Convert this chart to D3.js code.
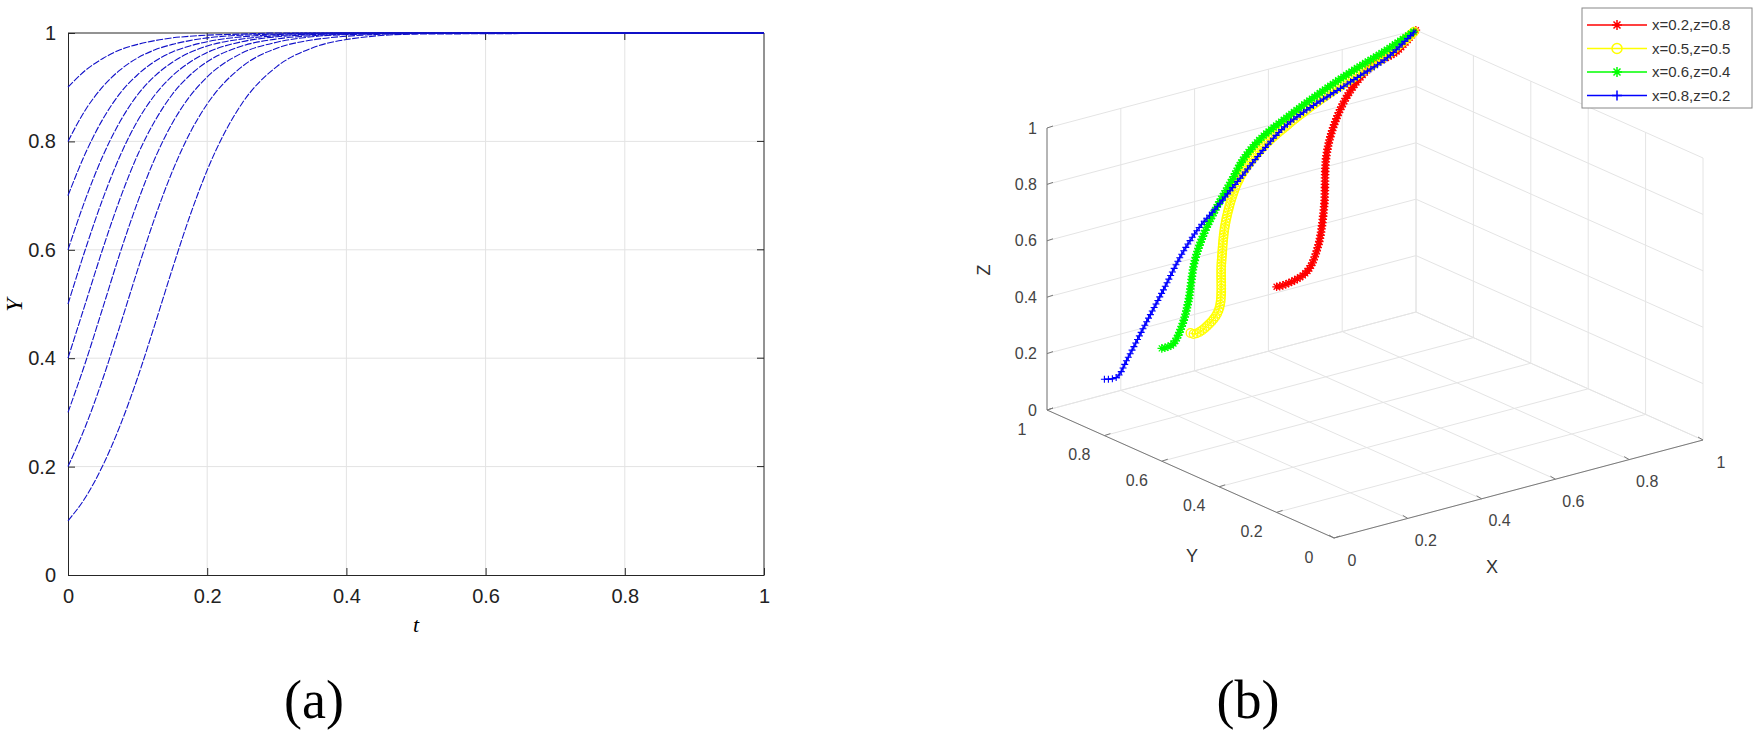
<!DOCTYPE html>
<html><head><meta charset="utf-8">
<script src="https://cdn.jsdelivr.net/npm/d3@7"></script>
<style>body{margin:0;background:#fff}svg{display:block}</style>
</head><body><svg id="c" width="1762" height="733"></svg>
<script>
// ---- panel (a) data ----
const tSamples = [0,0.025,0.05,0.075,0.1,0.125,0.15,0.175,0.2,0.25,0.3,0.35,0.4,0.5,1];
const curveY01 = [0.1,0.143,0.202,0.276,0.364,0.463,0.565,0.662,0.747,0.870,0.938,0.972,0.988,0.998,1];
const curveY02 = [0.2,0.274,0.362,0.461,0.563,0.660,0.745,0.815,0.869,0.938,0.972,0.987,0.994,0.999,1];
const curveY03 = [0.3,0.392,0.493,0.595,0.688,0.769,0.834,0.883,0.919,0.963,0.983,0.993,0.997,0.999,1];
const curveY04 = [0.4,0.501,0.602,0.695,0.775,0.838,0.887,0.922,0.947,0.976,0.989,0.995,0.998,1,1];
const curveY05 = [0.5,0.601,0.694,0.774,0.838,0.886,0.921,0.946,0.964,0.984,0.993,0.997,0.999,1,1];
const curveY06 = [0.6,0.693,0.773,0.837,0.886,0.921,0.946,0.964,0.976,0.989,0.995,0.998,1,1,1];
const curveY07 = [0.7,0.778,0.841,0.889,0.923,0.948,0.965,0.976,0.984,0.993,0.997,0.999,1,1,1];
const curveY08 = [0.8,0.858,0.901,0.932,0.954,0.969,0.979,0.986,0.991,0.996,0.998,1,1,1,1];
const curveY09 = [0.9,0.931,0.953,0.969,0.979,0.986,0.991,0.994,0.996,0.998,1,1,1,1,1];
const curvesA = [curveY01,curveY02,curveY03,curveY04,curveY05,curveY06,curveY07,curveY08,curveY09];
const ticksA = [0,0.2,0.4,0.6,0.8,1];

// ---- panel (b) data ----
const seriesNames = ["x=0.2,z=0.8","x=0.5,z=0.5","x=0.6,z=0.4","x=0.8,z=0.2"];
const seriesColors = ["#ff0000","#ffff00","#00ff00","#0000ff"];
const redX = [0,0.024,0.086,0.174,0.32,0.479,0.592,0.704,0.815,0.893,1];
const redY = [0.2,0.2,0.206,0.281,0.446,0.642,0.756,0.846,0.912,0.932,1];
const redZ = [0.8,0.8,0.82,0.84,0.86,0.9,0.93,0.96,0.98,0.99,1];
const yelX = [0,0.003,0.025,0.082,0.217,0.317,0.433,0.525,0.597,0.688,0.778,0.887,1];
const yelY = [0.5,0.49,0.48,0.507,0.671,0.784,0.887,0.926,0.926,0.934,0.941,0.957,1];
const yelZ = [0.5,0.5,0.52,0.55,0.6,0.66,0.72,0.78,0.84,0.89,0.93,0.97,1];
const grnX = [0,0.023,0.071,0.121,0.214,0.270,0.333,0.383,0.444,0.510,0.596,0.694,0.794,0.906,1];
const grnY = [0.6,0.592,0.623,0.664,0.761,0.801,0.836,0.853,0.885,0.908,0.924,0.941,0.962,0.982,1];
const grnZ = [0.4,0.41,0.44,0.49,0.56,0.62,0.68,0.74,0.79,0.83,0.87,0.91,0.94,0.97,1];
const bluX = [0,0.033,0.071,0.127,0.184,0.240,0.296,0.352,0.420,0.489,0.565,0.641,0.729,0.816,0.905,1];
const bluY = [0.8,0.8,0.81,0.82,0.83,0.84,0.85,0.86,0.87,0.88,0.9,0.92,0.94,0.96,0.98,1];
const bluZ = [0.2,0.195,0.245,0.343,0.441,0.540,0.613,0.662,0.731,0.801,0.852,0.877,0.898,0.919,0.942,1];
const seriesB = [[redX,redY,redZ],[yelX,yelY,yelZ],[grnX,grnY,grnZ],[bluX,bluY,bluZ]];
const ticksB = [0,0.2,0.4,0.6,0.8,1];
const tickLabelsB = ["0","0.2","0.4","0.6","0.8","1"];

const svg = d3.select("#c");
const sans = "'Liberation Sans',Arial,sans-serif";

// ===== panel (a) =====
const L=68,R=764,T=33,B=575;
const xA = d3.scaleLinear([0,1],[L,R]);
const yA = d3.scaleLinear([0,1],[B,T]);
const gA = svg.append("g");
gA.selectAll(".gx").data(ticksA.slice(1,-1)).join("line").attr("x1",d=>xA(d)).attr("x2",d=>xA(d)).attr("y1",T).attr("y2",B).attr("stroke","#e3e3e3");
gA.selectAll(".gy").data(ticksA.slice(1,-1)).join("line").attr("y1",d=>yA(d)).attr("y2",d=>yA(d)).attr("x1",L).attr("x2",R).attr("stroke","#e3e3e3");
const ax = d3.axisBottom(xA).tickValues(ticksA).tickFormat(d3.format("~g")).tickSizeInner(-7).tickSizeOuter(0).tickPadding(14);
const ay = d3.axisLeft(yA).tickValues(ticksA).tickFormat(d3.format("~g")).tickSizeInner(-7).tickSizeOuter(0).tickPadding(12);
const gx = gA.append("g").attr("transform",`translate(0,${B})`).call(ax);
const gy = gA.append("g").attr("transform",`translate(${L},0)`).call(ay);
[gx,gy].forEach(g=>{g.selectAll("text").attr("font-family",sans).attr("font-size",20).attr("fill","#222");
  g.select(".domain").attr("stroke","#262626"); g.selectAll(".tick line").attr("stroke","#262626");});
gA.append("line").attr("x1",L).attr("x2",R).attr("y1",T).attr("y2",T).attr("stroke","#262626");
gA.append("line").attr("x1",R).attr("x2",R).attr("y1",T).attr("y2",B).attr("stroke","#262626");
gA.selectAll(".tt").data(ticksA.slice(1,-1)).join("line").attr("x1",d=>xA(d)).attr("x2",d=>xA(d)).attr("y1",T).attr("y2",T+7).attr("stroke","#262626");
gA.selectAll(".tr").data(ticksA.slice(1,-1)).join("line").attr("y1",d=>yA(d)).attr("y2",d=>yA(d)).attr("x1",R).attr("x2",R-7).attr("stroke","#262626");
const lineA = d3.line().x((d,i)=>xA(tSamples[i])).y(d=>yA(d)).curve(d3.curveMonotoneX);
gA.selectAll(".ca").data(curvesA).join("path").attr("d",d=>lineA(d)).attr("fill","none")
  .attr("stroke","#1010c8").attr("stroke-width",1.1).attr("stroke-dasharray","7,1.5");
gA.append("text").attr("x",416).attr("y",632).attr("text-anchor","middle").attr("font-family","'Liberation Serif',serif").attr("font-style","italic").attr("font-size",22).text("t");
gA.append("text").attr("transform","translate(22,305) rotate(-90)").attr("text-anchor","middle").attr("font-family","'Liberation Serif',serif").attr("font-style","italic").attr("font-size",24).text("Y");
svg.append("text").attr("x",314).attr("y",718).attr("text-anchor","middle").attr("font-family","'Liberation Serif',serif").attr("font-size",54).text("(a)");
svg.append("text").attr("x",1248).attr("y",718).attr("text-anchor","middle").attr("font-family","'Liberation Serif',serif").attr("font-size",54).text("(b)");

// ===== panel (b) 3D projection =====
const O=[1334,538];
const sxX=d3.scaleLinear([0,1],[0,369]), sxY=d3.scaleLinear([0,1],[0,-98]);
const syX=d3.scaleLinear([0,1],[0,-287]), syY=d3.scaleLinear([0,1],[0,-128]);
const szY=d3.scaleLinear([0,1],[0,-282]);
const P=(x,y,z)=>[O[0]+sxX(x)+syX(y), O[1]+sxY(x)+syY(y)+szY(z)];
const gB=svg.append("g");
const seg=(a,b,col,w)=>gB.append("line").attr("x1",a[0]).attr("y1",a[1]).attr("x2",b[0]).attr("y2",b[1]).attr("stroke",col).attr("stroke-width",w||1);
const gc="#e4e4e4";
ticksB.forEach(v=>{
  seg(P(v,0,0),P(v,1,0),gc); seg(P(0,v,0),P(1,v,0),gc);
  seg(P(v,1,0),P(v,1,1),gc); seg(P(0,1,v),P(1,1,v),gc);
  seg(P(1,v,0),P(1,v,1),gc); seg(P(1,0,v),P(1,1,v),gc);
});
const ac="#7a7a7a";
seg(P(0,1,0),P(0,1,1),ac); seg(P(0,1,0),P(0,0,0),ac); seg(P(0,0,0),P(1,0,0),ac);
ticksB.forEach((v,i)=>{
  const pz=P(0,1,v); seg(pz,[pz[0]+6,pz[1]-2],ac);
  gB.append("text").attr("x",pz[0]-10).attr("y",pz[1]).attr("dy","0.35em").attr("text-anchor","end").attr("font-family",sans).attr("font-size",16).attr("fill","#444").text(tickLabelsB[i]);
  const py=P(0,v,0); seg(py,[py[0]+6,py[1]-2],ac);
  gB.append("text").attr("x",py[0]-25).attr("y",py[1]+19).attr("dy","0.35em").attr("text-anchor","middle").attr("font-family",sans).attr("font-size",16).attr("fill","#444").text(tickLabelsB[i]);
  const px=P(v,0,0); seg(px,[px[0]-5,px[1]-3],ac);
  gB.append("text").attr("x",px[0]+18).attr("y",px[1]+22).attr("dy","0.35em").attr("text-anchor","middle").attr("font-family",sans).attr("font-size",16).attr("fill","#444").text(tickLabelsB[i]);
});
gB.append("text").attr("transform","translate(990,270) rotate(-90)").attr("text-anchor","middle").attr("font-family",sans).attr("font-size",18).attr("fill","#333").text("Z");
gB.append("text").attr("x",1192).attr("y",562).attr("text-anchor","middle").attr("font-family",sans).attr("font-size",18).attr("fill","#333").text("Y");
gB.append("text").attr("x",1492).attr("y",573).attr("text-anchor","middle").attr("font-family",sans).attr("font-size",18).attr("fill","#333").text("X");

const mk=[
  r=>`M${-r},0L${r},0M0,${-r}L0,${r}M${-r*.7},${-r*.7}L${r*.7},${r*.7}M${-r*.7},${r*.7}L${r*.7},${-r*.7}`,
  r=>d3.symbol().type(d3.symbolCircle).size(Math.PI*r*r)(),
  r=>`M${-r*.7},${-r*.7}L${r*.7},${r*.7}M${-r*.7},${r*.7}L${r*.7},${-r*.7}M${-r},0L${r},0M0,${-r}L0,${r}`,
  r=>`M${-r},0L${r},0M0,${-r}L0,${r}`
];
const line3=d3.line().curve(d3.curveCatmullRom);
[0,1,2,3].forEach(k=>{
  const s=seriesB[k];
  const pts=s[0].map((x,i)=>P(x,s[1][i],s[2][i]));
  const path=gB.append("path").attr("d",line3(pts)).attr("fill","none").attr("stroke",seriesColors[k]).attr("stroke-width",1.5);
  const node=path.node(), len=node.getTotalLength();
  const g=gB.append("g");
  const step=k===3?4:3.2;
  for(let l=0;l<=len;l+=step){const p=node.getPointAtLength(l);
    g.append("path").attr("d",mk[k](k===3?3.5:4.3)).attr("transform",`translate(${p.x},${p.y})`)
     .attr("fill","none").attr("stroke",seriesColors[k]).attr("stroke-width",k===3?1.1:1.3);}
});

// legend
const lg=svg.append("g");
lg.append("rect").attr("x",1582).attr("y",8).attr("width",170).attr("height",100).attr("fill","#fff").attr("stroke","#888");
seriesNames.forEach((n,i)=>{
  const y=25+i*23.5;
  lg.append("line").attr("x1",1587).attr("x2",1647).attr("y1",y).attr("y2",y).attr("stroke",seriesColors[i]).attr("stroke-width",1.5);
  lg.append("path").attr("d",mk[i](5)).attr("transform",`translate(1617,${y})`)
    .attr("fill","none").attr("stroke",seriesColors[i]).attr("stroke-width",1.5);
  lg.append("text").attr("x",1652).attr("y",y).attr("dy","0.35em").attr("font-family",sans).attr("font-size",15).attr("fill","#333").text(n);
});
</script></body></html>
